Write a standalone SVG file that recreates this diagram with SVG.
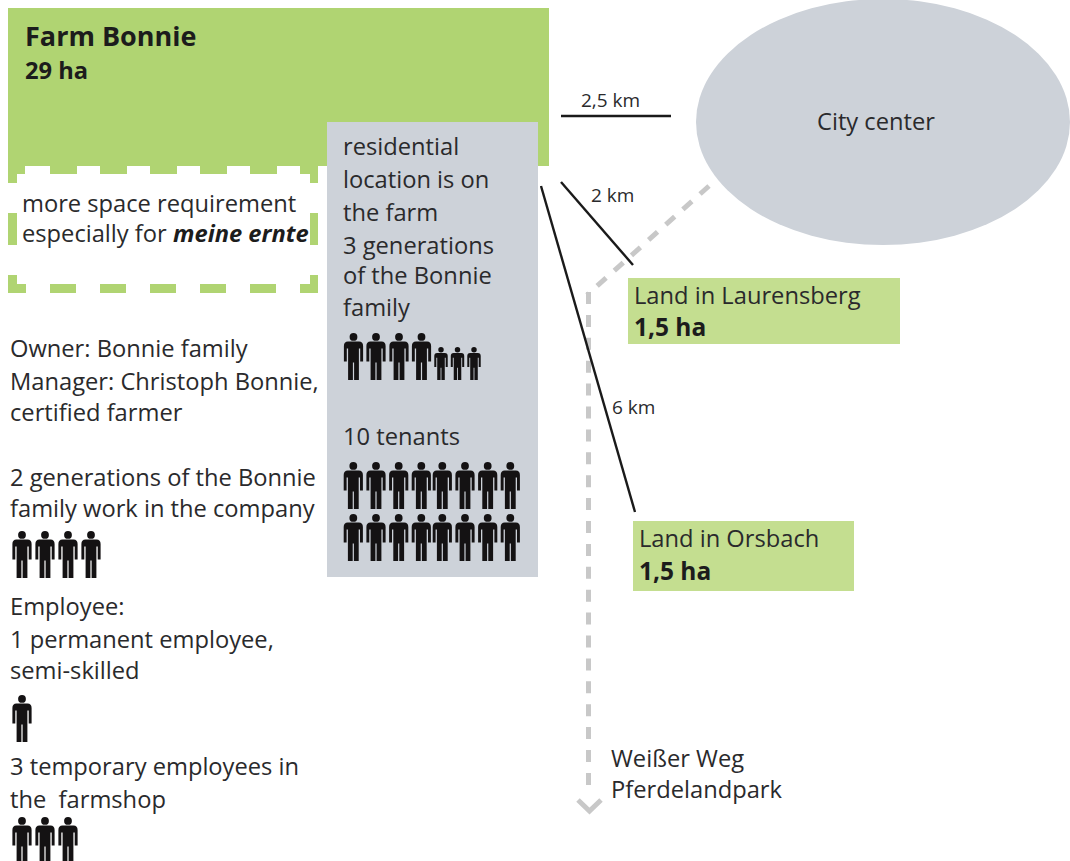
<svg xmlns="http://www.w3.org/2000/svg" width="1070" height="861" viewBox="0 0 1070 861">
<style>
text{font-family:"Open Sans","Noto Sans","Liberation Sans",sans-serif;fill:#2a2a2c;font-size:23.7px}
.b{font-weight:700;fill:#1c1c1c}
.h{font-size:27px}
.m{font-size:24.500px}
.s{font-size:19px}
.g{fill:#b0d472}
.lg{fill:#c4de90}
.pn{fill:#cdd2d9}
.ln{stroke:#1a1a1a;stroke-width:2.4;fill:none}
.da{stroke:#c8c8c8;stroke-width:5;fill:none}
.p{fill:#141213}
</style>
<defs>
<g id="person">
<circle cx="0" cy="3.9" r="3.9"/>
<path d="M-5.500 8.500H5.500Q9.600 8.500 9.600 13V28.500H6.700V15.500H5.400V47H.6V29.500H-.6V47H-5.400V15.500H-6.700V28.500H-9.600V13Q-9.600 8.500-5.500 8.500Z"/>
</g>
</defs>
<rect width="1070" height="861" fill="#fff"/>
<g id="farm">
<rect class="g" x="8" y="8" width="541" height="158"/>
<text class="b h" x="25" y="46">Farm Bonnie</text>
<text class="b" x="25" y="79">29 ha</text>
</g>
<g id="space-requirement">
<path class="g" d="M8 166H25V174H17V183H8ZM300 166H318V183H310V174H300ZM50 166H77V174H50ZM100 166H127V174H100ZM150 166H177V174H150ZM200 166H227V174H200ZM250 166H277V174H250Z"/>
<path class="g" d="M8 213H17V245H8ZM310 213H318V245H310ZM8 275H17V284H26V293H8ZM310 275H318V293H300V284H310ZM50 284H76V293H50ZM100 284H126V293H100ZM150 284H176V293H150ZM200 284H226V293H200ZM250 284H276V293H250Z"/>
<text x="22" y="212">more space requirement</text>
<text x="22" y="242">especially for</text>
<text class="b" x="173" y="242" font-style="italic">meine ernte</text>
</g>
<g id="residential">
<rect class="pn" x="327" y="122" width="211" height="455"/>
<text x="343" y="155">residential</text>
<text x="343" y="188">location is on</text>
<text x="343" y="221">the farm</text>
<text x="343" y="254">3 generations</text>
<text x="343" y="284">of the Bonnie</text>
<text x="343" y="316">family</text>
<g class="p">
<use href="#person" x="353.500" y="333"/><use href="#person" x="376" y="333"/><use href="#person" x="399" y="333"/><use href="#person" x="421.500" y="333"/>
<use href="#person" transform="translate(441 347) scale(.7)"/><use href="#person" transform="translate(457.500 347) scale(.7)"/><use href="#person" transform="translate(474 347) scale(.7)"/>
</g>
<text x="343" y="445">10 tenants</text>
<g class="p">
<use href="#person" x="353.300" y="462"/><use href="#person" x="376" y="462"/><use href="#person" x="398.700" y="462"/><use href="#person" x="421.300" y="462"/><use href="#person" x="442.300" y="462"/><use href="#person" x="465" y="462"/><use href="#person" x="487.700" y="462"/><use href="#person" x="510.300" y="462"/>
<use href="#person" x="353.300" y="514"/><use href="#person" x="376" y="514"/><use href="#person" x="398.700" y="514"/><use href="#person" x="421.300" y="514"/><use href="#person" x="442.300" y="514"/><use href="#person" x="465" y="514"/><use href="#person" x="487.700" y="514"/><use href="#person" x="510.300" y="514"/>
</g>
</g>
<g id="people">
<text x="10" y="357">Owner: Bonnie family</text>
<text x="10" y="390">Manager: Christoph Bonnie,</text>
<text x="10" y="421">certified farmer</text>
<text x="10" y="486">2 generations of the Bonnie</text>
<text x="10" y="517">family work in the company</text>
<g class="p"><use href="#person" x="22" y="531"/><use href="#person" x="45" y="531"/><use href="#person" x="68" y="531"/><use href="#person" x="91" y="531"/></g>
<text x="10" y="615">Employee:</text>
<text x="10" y="648">1 permanent employee,</text>
<text x="10" y="679">semi-skilled</text>
<g class="p"><use href="#person" x="22" y="695"/></g>
<text x="10" y="775">3 temporary employees in</text>
<text x="10" y="808" xml:space="preserve">the  farmshop</text>
<g class="p"><use href="#person" x="22" y="817"/><use href="#person" x="45" y="817"/><use href="#person" x="68" y="817"/></g>
</g>
<g id="city-center">
<ellipse class="pn" cx="883" cy="122" rx="187" ry="123"/>
<text x="817" y="130">City center</text>
</g>
<g id="land-laurensberg">
<rect class="lg" x="628" y="278" width="272" height="66"/>
<text x="634" y="304">Land in Laurensberg</text>
<text class="b m" x="634" y="336">1,5 ha</text>
</g>
<g id="land-orsbach">
<rect class="lg" x="633" y="521" width="221" height="70"/>
<text x="639" y="547">Land in Orsbach</text>
<text class="b m" x="639" y="580">1,5 ha</text>
</g>
<g id="weisser-weg">
<text x="611" y="767">Weißer Weg</text>
<text x="611" y="798">Pferdelandpark</text>
</g>
<g id="connectors">
<path class="da" stroke-dasharray="12 11" d="M709 186L587 295"/>
<path class="da" stroke-dasharray="12 10.900" d="M588.500 292V786"/>
<path class="da" d="M578 800L589.500 811L601 800"/>
<path class="ln" d="M561 116H671"/>
<path class="ln" d="M561 182L633 265"/>
<path class="ln" d="M541 186L635 512"/>
<text class="s" x="581" y="107">2,5 km</text>
<text class="s" x="591" y="202">2 km</text>
<text class="s" x="612" y="414">6 km</text>
</g>
</svg>
